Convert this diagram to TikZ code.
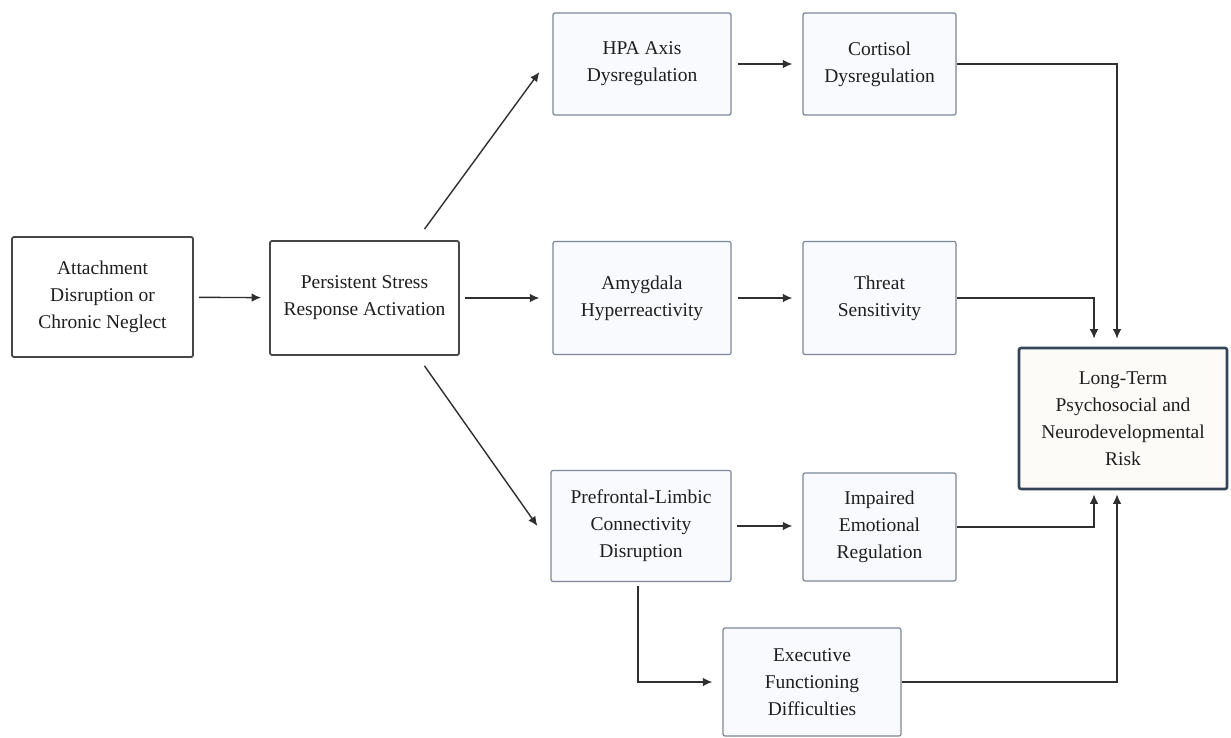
\documentclass[tikz,border=0pt]{standalone}
\usepackage{fontspec}
\setmainfont{Liberation Serif}
\usetikzlibrary{arrows.meta}
\definecolor{midborder}{HTML}{7D8797}
\definecolor{midfill}{HTML}{F8FAFD}
\definecolor{darkborder}{HTML}{474747}
\definecolor{ltborder}{HTML}{34455A}
\definecolor{ltfill}{HTML}{FDFBF8}
\definecolor{linecol}{HTML}{2F2F2F}
\begin{document}
\begin{tikzpicture}[x=1pt,y=-1pt,
  base/.style={align=center, inner sep=0pt, rounded corners=2pt,
    font=\fontsize{19.5}{27}\selectfont, text=black!88},
  midbox/.style={base, draw=midborder, line width=1.2pt, fill=midfill},
  darkbox/.style={base, draw=darkborder, line width=1.8pt, fill=white},
  ltbox/.style={base, draw=ltborder, line width=2.6pt, fill=ltfill},
  conn/.style={draw=linecol, line width=1.4pt},
  arr/.style={conn, -{Latex[length=9.5pt,width=8.5pt]}},
]
\fill[white] (0,0) rectangle (1231,738);
\useasboundingbox (0,0) rectangle (1231,738);

\node[darkbox, minimum width=181pt, minimum height=120pt] (att) at (102.5,297) {Attachment\\Disruption or\\Chronic Neglect};
\node[darkbox, minimum width=189pt, minimum height=114pt] (per) at (364.5,298) {Persistent Stress\\Response Activation};
\node[midbox, minimum width=178pt, minimum height=102pt] (hpa) at (642,64) {HPA Axis\\Dysregulation};
\node[midbox, minimum width=153pt, minimum height=102pt] (cor) at (879.5,64) {Cortisol\\Dysregulation};
\node[midbox, minimum width=178pt, minimum height=113pt] (amy) at (642,298) {Amygdala\\Hyperreactivity};
\node[midbox, minimum width=153pt, minimum height=113pt] (thr) at (879.5,298) {Threat\\Sensitivity};
\node[midbox, minimum width=180pt, minimum height=111pt] (pre) at (641,526) {Prefrontal-Limbic\\Connectivity\\Disruption};
\node[midbox, minimum width=153pt, minimum height=108pt] (imp) at (879.5,527) {Impaired\\Emotional\\Regulation};
\node[midbox, minimum width=178pt, minimum height=108pt] (exe) at (812,682) {Executive\\Functioning\\Difficulties};
\node[ltbox, minimum width=208pt, minimum height=141pt] (lt) at (1123,418.5) {Long-Term\\Psychosocial and\\Neurodevelopmental\\Risk};

\coordinate (ltA) at ([xshift=-6pt]lt.north);
\coordinate (ltB) at ([xshift=-29pt]lt.north);
\coordinate (ltC) at ([xshift=-29pt]lt.south);
\coordinate (ltD) at ([xshift=-6pt]lt.south);

\draw[arr, shorten <=5pt, shorten >=8pt] (att) -- (per);
\draw[arr, shorten <=5pt, shorten >=13pt] (per) -- (amy);
\draw[arr] ([xshift=60pt,yshift=11pt]per.north) -- ([xshift=-13pt,yshift=-8pt]hpa.west);
\draw[arr] ([xshift=60pt,yshift=-10pt]per.south) -- ([xshift=-13pt]pre.west);
\draw[arr, shorten <=6pt, shorten >=10pt] (hpa) -- (cor);
\draw[arr, shorten <=6pt, shorten >=10pt] (amy) -- (thr);
\draw[arr, shorten <=5pt, shorten >=10pt] (pre.east) -- (imp.west |- pre.east);
\draw[arr, shorten <=4pt, shorten >=10pt] ([xshift=-3pt]pre.south) |- (exe.west);
\draw[arr, shorten >=8pt] (cor.east) -| (ltA);
\draw[arr, shorten >=8pt] (thr.east) -| (ltB);
\draw[arr, shorten >=4pt] (imp.east) -| (ltC);
\draw[arr, shorten >=4pt] (exe.east) -| (ltD);
\end{tikzpicture}
\end{document}
